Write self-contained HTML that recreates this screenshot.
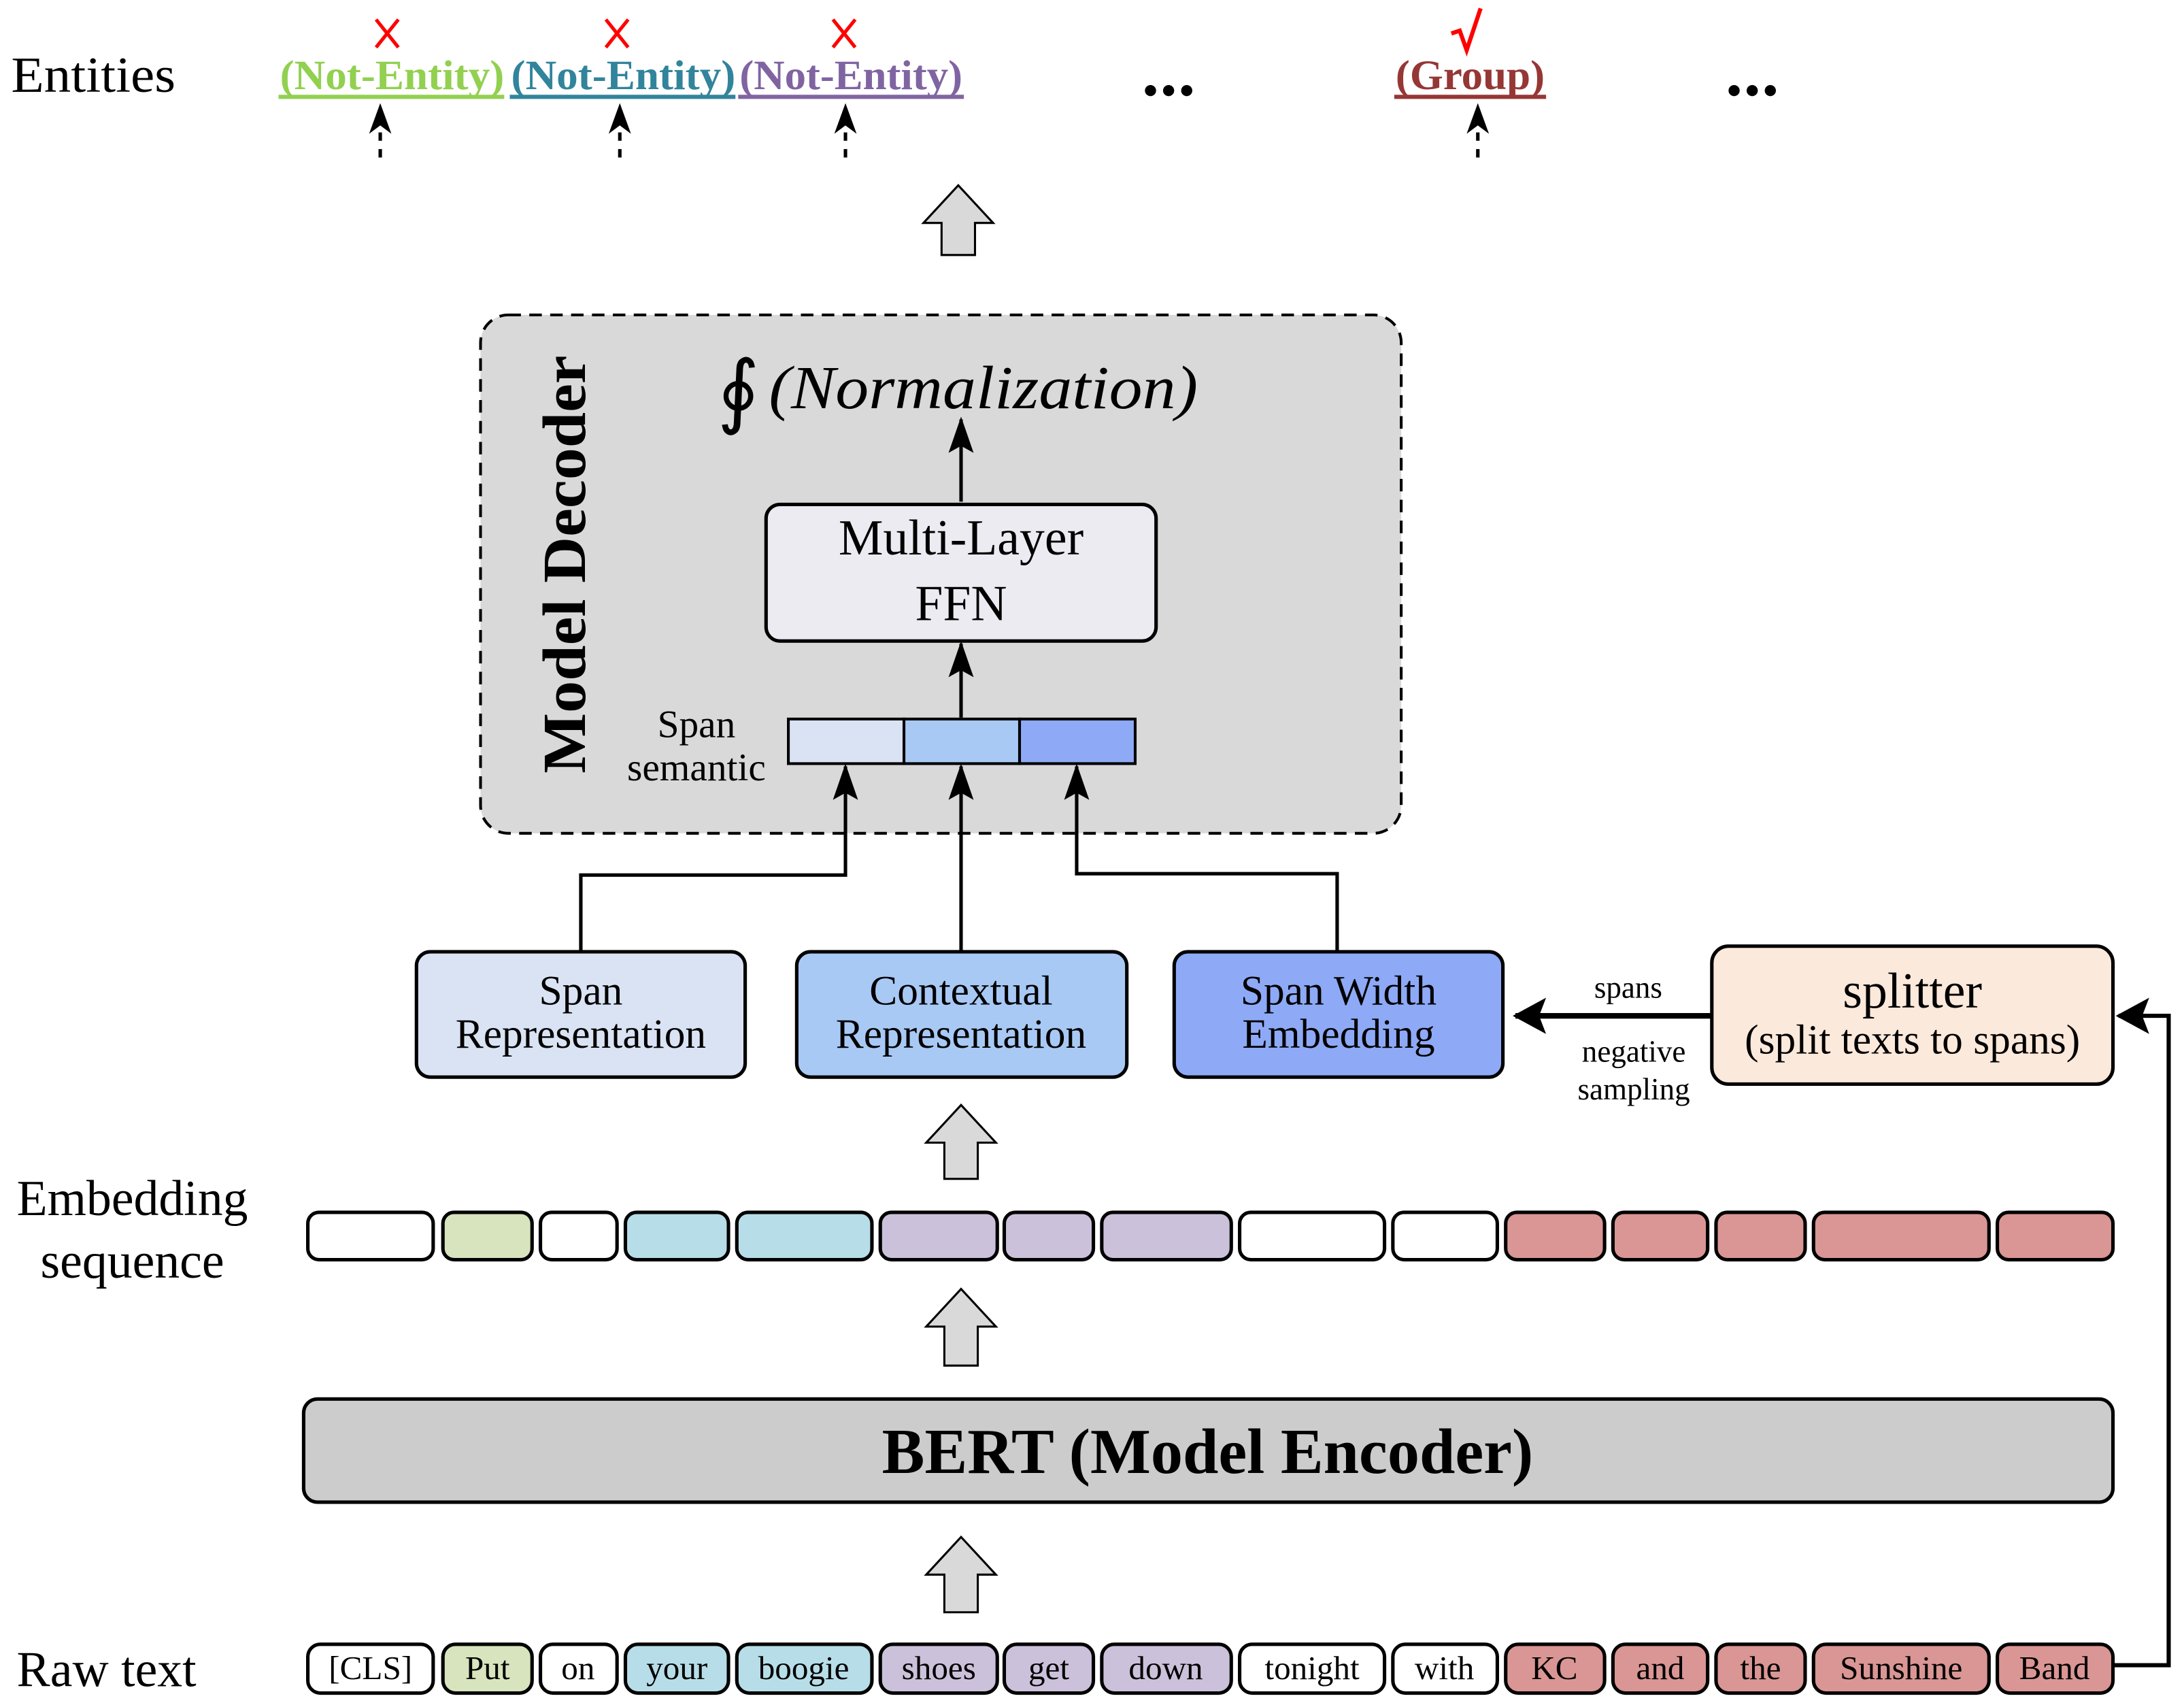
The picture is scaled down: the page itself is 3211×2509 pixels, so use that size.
<!DOCTYPE html>
<html><head><meta charset="utf-8"><style>html,body{margin:0;padding:0;background:#fff}svg{display:block}</style></head>
<body>
<svg xmlns="http://www.w3.org/2000/svg" width="3211" height="2509" viewBox="0 0 1568 1225" preserveAspectRatio="none" font-family="'Liberation Serif', serif">
<defs>
<marker id="ah" markerWidth="26" markerHeight="18" refX="24" refY="9" orient="auto" markerUnits="userSpaceOnUse" viewBox="0 0 26 18"><path d="M0,0 L26,9 L0,18 L5,9 z" fill="#000"/></marker>
<marker id="ah2" markerWidth="24" markerHeight="26" refX="22" refY="13" orient="auto" markerUnits="userSpaceOnUse" viewBox="0 0 24 26"><path d="M0,0 L24,13 L0,26 L5,13 z" fill="#000"/></marker>
</defs>
<rect width="1568" height="1225" fill="#fff"/>
<!-- Entities row -->
<text x="8" y="66" font-size="36" textLength="118" lengthAdjust="spacingAndGlyphs">Entities</text>
<g font-size="30" font-weight="bold">
<text x="201" y="64" fill="#92d050" textLength="161" lengthAdjust="spacingAndGlyphs">(Not-Entity)</text>
<text x="367" y="64" fill="#31849b" textLength="161" lengthAdjust="spacingAndGlyphs">(Not-Entity)</text>
<text x="531" y="64" fill="#8064a2" textLength="160" lengthAdjust="spacingAndGlyphs">(Not-Entity)</text>
<text x="1002" y="64" fill="#953735" textLength="107" lengthAdjust="spacingAndGlyphs">(Group)</text>
</g>
<rect x="200" y="68" width="162" height="3" fill="#92d050"/>
<rect x="366" y="68" width="162" height="3" fill="#31849b"/>
<rect x="530" y="68" width="162" height="3" fill="#8064a2"/>
<rect x="1001" y="68" width="109" height="3" fill="#953735"/>
<g stroke="#f00" stroke-width="2.5">
<path d="M270,14 L286,34 M286,14 L270,34"/>
<path d="M435,14 L451,34 M451,14 L435,34"/>
<path d="M598,14 L614,34 M614,14 L598,34"/>
</g>
<path d="M1042,24 L1048,22 L1053,36 L1063,6" stroke="#f00" stroke-width="3" fill="none"/>
<g stroke="#000" stroke-width="2.5" stroke-dasharray="6,6">
<line x1="273" y1="113" x2="273" y2="82"/>
<line x1="445" y1="113" x2="445" y2="82"/>
<line x1="607" y1="113" x2="607" y2="82"/>
<line x1="1061" y1="113" x2="1061" y2="82"/>
</g>
<g fill="#000">
<path d="M273,74 L265,96 L273,90 L281,96z"/>
<path d="M445,74 L437,96 L445,90 L453,96z"/>
<path d="M607,74 L599,96 L607,90 L615,96z"/>
<path d="M1061,74 L1053,96 L1061,90 L1069,96z"/>
</g>
<g fill="#000"><circle cx="826" cy="65" r="4"/><circle cx="839" cy="65" r="4"/><circle cx="852" cy="65" r="4"/>
<circle cx="1245" cy="65" r="4"/><circle cx="1258" cy="65" r="4"/><circle cx="1271" cy="65" r="4"/></g>
<!-- hollow arrows -->
<g fill="#d9d9d9" stroke="#000" stroke-width="1.5">
<path d="M688,133 L713,160 L700,160 L700,183 L676,183 L676,160 L663,160z"/>
<path d="M690,793 L715,820 L702,820 L702,846 L678,846 L678,820 L665,820z"/>
<path d="M690,925 L715,952 L702,952 L702,980 L678,980 L678,952 L665,952z"/>
<path d="M690,1103 L715,1130 L702,1130 L702,1157 L678,1157 L678,1130 L665,1130z"/>
</g>
<!-- Decoder -->
<rect x="345" y="226" width="661" height="372" rx="20" fill="#d9d9d9" stroke="#000" stroke-width="2" stroke-dasharray="9,6"/>
<text transform="translate(420,405) rotate(-90)" text-anchor="middle" font-size="44" font-weight="bold" textLength="300" lengthAdjust="spacingAndGlyphs">Model Decoder</text>
<text x="515" y="300" font-size="58">∮</text>
<text x="552" y="293" font-size="44" font-style="italic" textLength="308" lengthAdjust="spacingAndGlyphs">(Normalization)</text>
<line x1="690" y1="360" x2="690" y2="301" stroke="#000" stroke-width="2.5" marker-end="url(#ah)"/>
<rect x="550" y="362" width="280" height="98" rx="10" fill="#edebf2" stroke="#000" stroke-width="2.5"/>
<text x="690" y="398" font-size="36" text-anchor="middle">Multi-Layer</text>
<text x="690" y="445" font-size="36" text-anchor="middle">FFN</text>
<line x1="690" y1="515" x2="690" y2="462" stroke="#000" stroke-width="2.5" marker-end="url(#ah)"/>
<text x="500" y="529" font-size="28" text-anchor="middle">Span</text>
<text x="500" y="560" font-size="28" text-anchor="middle">semantic</text>
<rect x="566" y="516" width="83" height="32" fill="#dae3f3" stroke="#000" stroke-width="2"/>
<rect x="649" y="516" width="83" height="32" fill="#a9c9f5" stroke="#000" stroke-width="2"/>
<rect x="732" y="516" width="83" height="32" fill="#8ea9f5" stroke="#000" stroke-width="2"/>
<g stroke="#000" stroke-width="2.5" fill="none">
<path d="M417,683 L417,628 L607,628 L607,550" marker-end="url(#ah)"/>
<path d="M690,683 L690,550" marker-end="url(#ah)"/>
<path d="M960,683 L960,627 L773,627 L773,550" marker-end="url(#ah)"/>
</g>
<!-- rep boxes -->
<g stroke="#000" stroke-width="2.5">
<rect x="299" y="683" width="236" height="90" rx="10" fill="#dae3f3"/>
<rect x="572" y="683" width="237" height="90" rx="10" fill="#a9c9f5"/>
<rect x="843" y="683" width="236" height="90" rx="10" fill="#8ea9f5"/>
<rect x="1229" y="679" width="288" height="99" rx="12" fill="#fbe9db"/>
</g>
<g font-size="30" text-anchor="middle">
<text x="417" y="721">Span</text><text x="417" y="752">Representation</text>
<text x="690" y="721">Contextual</text><text x="690" y="752">Representation</text>
<text x="961" y="721">Span Width</text><text x="961" y="752">Embedding</text>
<text x="1373" y="723" font-size="36">splitter</text>
<text x="1373" y="756">(split texts to spans)</text>
</g>
<line x1="1229" y1="729" x2="1088" y2="729" stroke="#000" stroke-width="4" marker-end="url(#ah2)"/>
<g font-size="22" text-anchor="middle"><text x="1169" y="716">spans</text><text x="1173" y="762">negative</text><text x="1173" y="789">sampling</text></g>
<path d="M1517,1195 L1557,1195 L1557,729 L1521,729" stroke="#000" stroke-width="3" fill="none" marker-end="url(#ah2)"/>
<!-- Embedding -->
<text x="95" y="872" font-size="36" text-anchor="middle">Embedding</text>
<text x="95" y="917" font-size="36" text-anchor="middle">sequence</text>
<g stroke="#000" stroke-width="2.5">
<rect x="221" y="870" width="90" height="34" rx="8" fill="#fff"/>
<rect x="318" y="870" width="64" height="34" rx="8" fill="#d7e4bd"/>
<rect x="388" y="870" width="55" height="34" rx="8" fill="#fff"/>
<rect x="449" y="870" width="74" height="34" rx="8" fill="#b7dde8"/>
<rect x="529" y="870" width="97" height="34" rx="8" fill="#b7dde8"/>
<rect x="632" y="870" width="84" height="34" rx="8" fill="#ccc1da"/>
<rect x="721" y="870" width="64" height="34" rx="8" fill="#ccc1da"/>
<rect x="791" y="870" width="93" height="34" rx="8" fill="#ccc1da"/>
<rect x="890" y="870" width="104" height="34" rx="8" fill="#fff"/>
<rect x="1000" y="870" width="75" height="34" rx="8" fill="#fff"/>
<rect x="1081" y="870" width="71" height="34" rx="8" fill="#d99694"/>
<rect x="1158" y="870" width="68" height="34" rx="8" fill="#d99694"/>
<rect x="1232" y="870" width="64" height="34" rx="8" fill="#d99694"/>
<rect x="1302" y="870" width="126" height="34" rx="8" fill="#d99694"/>
<rect x="1434" y="870" width="83" height="34" rx="8" fill="#d99694"/>
</g>
<!-- BERT -->
<rect x="218" y="1004" width="1299" height="74" rx="10" fill="#cccccc" stroke="#000" stroke-width="2.5"/>
<text x="867" y="1057" font-size="46" font-weight="bold" text-anchor="middle">BERT (Model Encoder)</text>
<!-- Raw text -->
<text x="12" y="1210" font-size="36">Raw text</text>
<g stroke="#000" stroke-width="2.5">
<rect x="221" y="1180" width="90" height="35" rx="9" fill="#fff"/>
<rect x="318" y="1180" width="64" height="35" rx="9" fill="#d7e4bd"/>
<rect x="388" y="1180" width="55" height="35" rx="9" fill="#fff"/>
<rect x="449" y="1180" width="74" height="35" rx="9" fill="#b7dde8"/>
<rect x="529" y="1180" width="97" height="35" rx="9" fill="#b7dde8"/>
<rect x="632" y="1180" width="84" height="35" rx="9" fill="#ccc1da"/>
<rect x="721" y="1180" width="64" height="35" rx="9" fill="#ccc1da"/>
<rect x="791" y="1180" width="93" height="35" rx="9" fill="#ccc1da"/>
<rect x="890" y="1180" width="104" height="35" rx="9" fill="#fff"/>
<rect x="1000" y="1180" width="75" height="35" rx="9" fill="#fff"/>
<rect x="1081" y="1180" width="71" height="35" rx="9" fill="#d99694"/>
<rect x="1158" y="1180" width="68" height="35" rx="9" fill="#d99694"/>
<rect x="1232" y="1180" width="64" height="35" rx="9" fill="#d99694"/>
<rect x="1302" y="1180" width="126" height="35" rx="9" fill="#d99694"/>
<rect x="1434" y="1180" width="83" height="35" rx="9" fill="#d99694"/>
</g>
<g font-size="24" text-anchor="middle">
<text x="266" y="1205">[CLS]</text><text x="350" y="1205">Put</text><text x="415" y="1205">on</text>
<text x="486" y="1205">your</text><text x="577" y="1205">boogie</text><text x="674" y="1205">shoes</text>
<text x="753" y="1205">get</text><text x="837" y="1205">down</text><text x="942" y="1205">tonight</text>
<text x="1037" y="1205">with</text><text x="1116" y="1205">KC</text><text x="1192" y="1205">and</text>
<text x="1264" y="1205">the</text><text x="1365" y="1205">Sunshine</text><text x="1475" y="1205">Band</text>
</g>
</svg>
</body></html>
